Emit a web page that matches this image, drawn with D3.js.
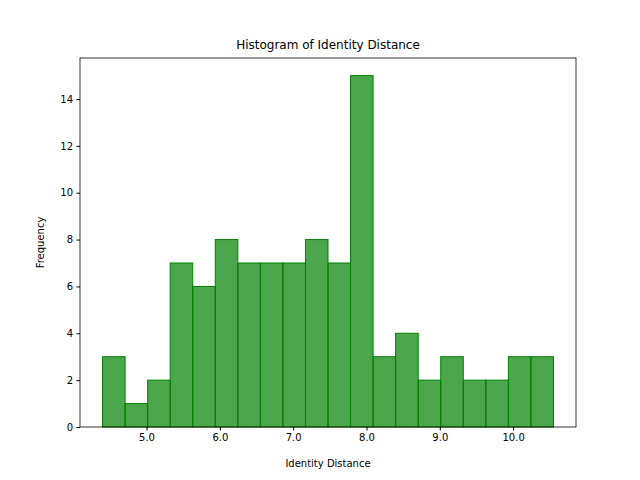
<!DOCTYPE html>
<html lang="en">
<head>
<meta charset="UTF-8">
<title>Histogram of Identity Distance</title>
<style>
  body { margin: 0; background: #fff; }
  text { font-family: "DejaVu Sans", sans-serif; }
</style>
</head>
<body>
<script src="https://cdn.jsdelivr.net/npm/d3@7/dist/d3.min.js"></script>
<script>
const binEdges = [4.40, 4.7075, 5.015, 5.3225, 5.63, 5.9375, 6.245, 6.5525, 6.86, 7.1675,
  7.475, 7.7825, 8.09, 8.3975, 8.705, 9.0125, 9.32, 9.6275, 9.935, 10.2425, 10.55];
const counts = [3, 1, 2, 7, 6, 8, 7, 7, 7, 8, 7, 15, 3, 4, 2, 3, 2, 2, 3, 3];
const xTicks = [5, 6, 7, 8, 9, 10];
const yTicks = [0, 2, 4, 6, 8, 10, 12, 14];

const W = 640, H = 480;
const m = {left: 80, right: 64, top: 58, bottom: 53};

const svg = d3.select("body").append("svg")
  .attr("width", W).attr("height", H);

const x = d3.scaleLinear().domain([4.0925, 10.8575]).range([m.left, W - m.right]);
const y = d3.scaleLinear().domain([0, 15.75]).range([H - m.bottom, m.top]);

svg.selectAll("rect.bar")
  .data(counts)
  .enter().append("rect")
  .attr("class", "bar")
  .attr("x", (d, i) => x(binEdges[i]))
  .attr("width", (d, i) => x(binEdges[i + 1]) - x(binEdges[i]))
  .attr("y", d => y(d))
  .attr("height", d => y(0) - y(d))
  .attr("fill", "green").attr("fill-opacity", 0.7)
  .attr("stroke", "green").attr("stroke-width", 1);

const xAxis = svg.append("g")
  .attr("transform", `translate(0,${H - m.bottom})`)
  .call(d3.axisBottom(x).tickValues(xTicks).tickSize(3.5).tickPadding(3.5));
const yAxis = svg.append("g")
  .attr("transform", `translate(${m.left},0)`)
  .call(d3.axisLeft(y).tickValues(yTicks).tickSize(3.5).tickPadding(3.5));

[xAxis, yAxis].forEach(g => {
  g.select(".domain").remove();
  g.selectAll("text").attr("font-size", 10).attr("fill", "#000")
    .style("font-family", "DejaVu Sans");
  g.selectAll("line").attr("stroke", "#000");
});

svg.append("rect")
  .attr("x", m.left).attr("y", m.top)
  .attr("width", W - m.left - m.right).attr("height", H - m.top - m.bottom)
  .attr("fill", "none").attr("stroke", "#000").attr("stroke-width", 0.8);

svg.append("text").attr("x", (m.left + W - m.right) / 2).attr("y", 49)
  .attr("text-anchor", "middle").attr("font-size", 12)
  .text("Histogram of Identity Distance");
svg.append("text").attr("x", (m.left + W - m.right) / 2).attr("y", 467)
  .attr("text-anchor", "middle").attr("font-size", 10)
  .text("Identity Distance");
svg.append("text")
  .attr("transform", `translate(44,${(m.top + H - m.bottom) / 2}) rotate(-90)`)
  .attr("text-anchor", "middle").attr("font-size", 10)
  .text("Frequency");
</script>
</body>
</html>
